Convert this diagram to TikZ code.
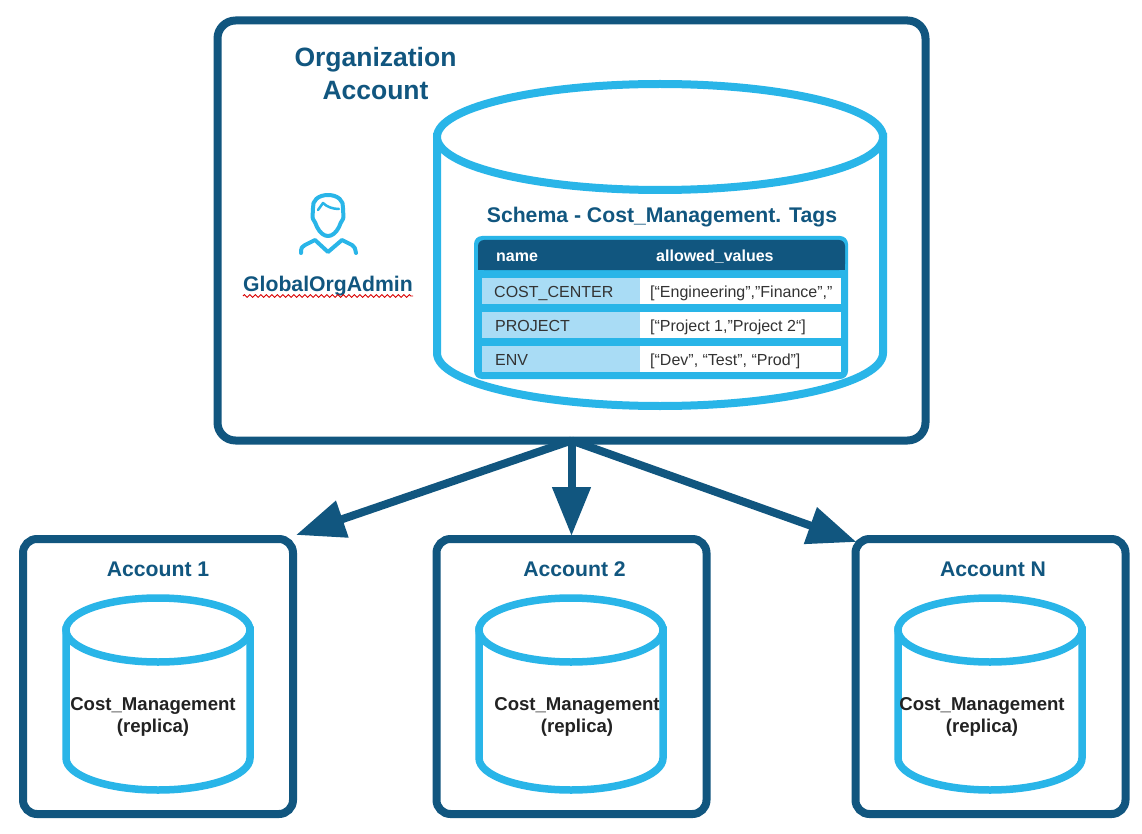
\documentclass[tikz,border=0pt]{standalone}
\usepackage{fontspec}
\setmainfont{Liberation Sans}
\usetikzlibrary{arrows.meta,decorations.pathmorphing}
\definecolor{navy}{HTML}{11567F}
\definecolor{sky}{HTML}{29B5E8}
\definecolor{pale}{HTML}{A9DCF5}
\definecolor{ink}{HTML}{222222}
\definecolor{cellink}{HTML}{333333}
\tikzset{
  x=1pt,y=-1pt,
  bigbox/.style={draw=navy,line width=8pt,rounded corners=18pt,fill=white,inner sep=0pt,outer sep=0pt},
  acctbox/.style={draw=navy,line width=8pt,rounded corners=14pt,fill=white,inner sep=0pt,outer sep=0pt},
  drum/.style={draw=sky,line width=8pt,fill=white},
  smalldrum/.style={draw=sky,line width=7.5pt,fill=white},
  title/.style={text=navy,font=\bfseries,inner sep=0pt,align=center},
  capt/.style={text=ink,font=\fontsize{18.6}{22}\selectfont\bfseries,inner sep=0pt,align=center},
  cellA/.style={anchor=base west,text=cellink,font=\fontsize{16}{16}\selectfont,inner sep=0pt},
  cellB/.style={anchor=base west,text=cellink,font=\fontsize{16}{16}\selectfont,inner sep=0pt},
  head/.style={anchor=base west,text=white,font=\fontsize{16}{16}\selectfont\bfseries,inner sep=0pt},
  link/.style={draw=navy,line width=8pt,-{Triangle[length=49pt,width=37pt]}},
}
\newcommand{\smallcyl}[1]{%
  \path[smalldrum] (#1-92,630) -- (#1-92,758) .. controls (#1-92,775.7) and (#1-50.8,790) .. (#1,790)
     .. controls (#1+50.8,790) and (#1+92,775.7) .. (#1+92,758) -- (#1+92,630) -- cycle;
  \path[smalldrum] (#1,630) ellipse [x radius=92,y radius=32];}
\begin{document}
\begin{tikzpicture}
\useasboundingbox (0,0) rectangle (1142,834);
\fill[white] (0,0) rectangle (1142,834);
% boxes
\node[bigbox,minimum width=708pt,minimum height=420pt] (org) at (571.5,230.5) {};
\node[acctbox,minimum width=270pt,minimum height=275pt] (acc1) at (158,676.5) {};
\node[acctbox,minimum width=270pt,minimum height=275pt] (acc2) at (571.5,676.5) {};
\node[acctbox,minimum width=270pt,minimum height=275pt] (accN) at (990.5,676.5) {};
% connectors
\coordinate (tip1) at ([shift={(3,-4)}]acc1.north east);
\coordinate (tip2) at ([shift={(0,-3)}]acc2.north);
\coordinate (tip3) at ([shift={(1,3)}]accN.north west);
\draw[link] (org.south) -- (tip1);
\draw[link] (org.south) -- (tip2);
\draw[link] (org.south) -- (tip3);
% big cylinder
\path[drum] (437,137) -- (437,353) .. controls (437,382.3) and (536.8,406) .. (660,406)
   .. controls (783.2,406) and (883,382.3) .. (883,353) -- (883,137) -- cycle;
\path[drum] (660,137) ellipse [x radius=223,y radius=53];
% org labels
\node[title,font=\fontsize{26.5}{33}\selectfont\bfseries] (orgt) at (375.5,74) {Organization\\Account};
\node[title,font=\fontsize{21.2}{24}\selectfont\bfseries] (sch) at (662,217) {Schema - Cost\_Management. Tags};
% user icon
\draw[sky,line width=4pt,line join=round,line cap=round]
  (328,195) .. controls (338,195) and (344,201) .. (343,208)
  .. controls (343,213) and (344,217) .. (343,219)
  .. controls (341,222) and (340,224) .. (339,227)
  .. controls (336,233) and (332,236) .. (328,236)
  .. controls (324,236) and (320,233) .. (317,227)
  .. controls (316,224) and (315,222) .. (313,219)
  .. controls (312,217) and (313,213) .. (313,208)
  .. controls (312,201) and (318,195) .. (328,195) -- cycle;
\draw[sky,line width=2.5pt,line join=round,line cap=round]
  (318,210) -- (323,203) .. controls (327,207) and (333,209) .. (339,209);
\draw[sky,line width=4pt,line join=round,line cap=round]
  (301,253) .. controls (301,248) and (302,246) .. (305,245) -- (315,240) -- (328,252) -- (342,240) -- (352,245)
  .. controls (355,246) and (355,249) .. (356,253);
\node[title,font=\fontsize{21.2}{24}\selectfont\bfseries] (adm) at (328,286) {GlobalOrgAdmin};
\coordinate (w1) at (adm.west|-0,296);
\coordinate (w2) at (adm.east|-0,296);
\draw[red!85!black,line width=0.8pt,decorate,decoration={zigzag,amplitude=1.4pt,segment length=5.5pt}] (w1) -- (w2);
% table
\fill[sky,rounded corners=8pt] (474,236) rectangle (848,379);
\fill[navy,rounded corners=6pt] (478,240) rectangle (845,270);
\fill[navy] (478,256) rectangle (845,270);
\foreach \yy in {278,312,346}{
  \fill[pale] (482,\yy) rectangle (640,\yy+26);
  \fill[white] (640,\yy) rectangle (841,\yy+26);
}
\node[head] (h1) at (496,261.5) {name};
\node[head] (h2) at (656,261.5) {allowed\_values};
\node[cellA] (a1) at (494,297) {COST\_CENTER};
\node[cellB] (b1) at (650,297) {[“Engineering”,”Finance”,”};
\node[cellA] (a2) at (495,331) {PROJECT};
\node[cellB] (b2) at (650,331) {[“Project 1,”Project 2“]};
\node[cellA] (a3) at (495,365) {ENV};
\node[cellB] (b3) at (650,365) {[“Dev”, “Test”, “Prod”]};
% accounts
\smallcyl{158}
\smallcyl{571}
\smallcyl{990}
\node[title,font=\fontsize{21.2}{24}\selectfont\bfseries] (t1) at (158,569.5) {Account 1};
\node[title,font=\fontsize{21.2}{24}\selectfont\bfseries] (t2) at (574.5,569.5) {Account 2};
\node[title,font=\fontsize{21.2}{24}\selectfont\bfseries] (t3) at (993,569.5) {Account N};
\node[capt] (c1) at (153,717) {Cost\_Management\\(replica)};
\node[capt] (c2) at (577,717) {Cost\_Management\\(replica)};
\node[capt] (c3) at (982,717) {Cost\_Management\\(replica)};
\end{tikzpicture}
\end{document}
